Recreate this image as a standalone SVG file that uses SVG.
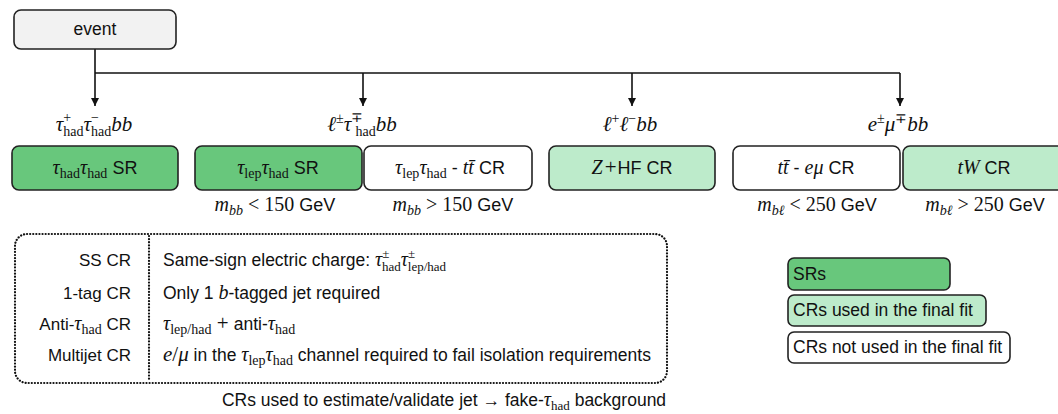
<svg xmlns="http://www.w3.org/2000/svg" width="1058" height="414" viewBox="0 0 1058 414">
<defs>
<marker id="arr" viewBox="0 0 10 10" refX="10" refY="5" markerWidth="8" markerHeight="9" markerUnits="userSpaceOnUse" orient="auto">
<path d="M0,0 L10,5 L0,10 z" fill="#111"/>
</marker>
</defs>
<style>
.box{stroke:#222;stroke-width:1.6}
.sr{fill:#68c77c}
.cr{fill:#bdebcb}
.nc{fill:#ffffff}
.ev{fill:#f2f2f2}
.sans{font-family:"Liberation Sans",Arial,sans-serif;fill:#111}
.m{font-family:"Liberation Serif","Times New Roman",serif;font-style:italic}
.r{font-family:"Liberation Serif","Times New Roman",serif;font-style:normal}
.conn{stroke:#111;stroke-width:1.6;fill:none}
.dot{stroke:#111;stroke-width:2.2;fill:none;stroke-dasharray:0.1 3;stroke-linecap:round}
</style>

<g id="connectors">
<line class="conn" x1="95" y1="49" x2="95" y2="106" marker-end="url(#arr)"/>
<line class="conn" x1="95" y1="73" x2="900" y2="73"/>
<line class="conn" x1="363" y1="73" x2="363" y2="106" marker-end="url(#arr)"/>
<line class="conn" x1="632" y1="73" x2="632" y2="106" marker-end="url(#arr)"/>
<line class="conn" x1="900" y1="73" x2="900" y2="106" marker-end="url(#arr)"/>
</g>

<g id="event">
<rect class="box ev" x="14" y="10" width="162" height="39" rx="7"/>
<text class="sans" x="95" y="35" font-size="17.5" text-anchor="middle">event</text>
</g>

<g id="label-hadhad">
<text class="sans" x="94" y="131" font-size="21" text-anchor="middle"><tspan class="m">τ</tspan><tspan class="r" font-size="14" dy="-9">+</tspan><tspan class="r" font-size="14" dx="-7.9" dy="14">had</tspan><tspan class="m" dy="-5">τ</tspan><tspan class="r" font-size="14" dy="-9">−</tspan><tspan class="r" font-size="14" dx="-7.9" dy="14">had</tspan><tspan class="m" dy="-5">bb</tspan></text>
</g>
<g id="label-lephad">
<text class="sans" x="362" y="131" font-size="21" text-anchor="middle"><tspan class="m">ℓ</tspan><tspan class="r" font-size="14" dy="-8">±</tspan><tspan class="m" dy="8">τ</tspan><tspan class="r" font-size="14" dy="-9">∓</tspan><tspan class="r" font-size="14" dx="-7.9" dy="14">had</tspan><tspan class="m" dy="-5">bb</tspan></text>
</g>
<g id="label-ll">
<text class="sans" x="630" y="131" font-size="21" text-anchor="middle"><tspan class="m">ℓ</tspan><tspan class="r" font-size="14" dy="-8">+</tspan><tspan class="m" dy="8">ℓ</tspan><tspan class="r" font-size="14" dy="-8">−</tspan><tspan class="m" dy="8">bb</tspan></text>
</g>
<g id="label-emu">
<text class="sans" x="898" y="131" font-size="21" text-anchor="middle"><tspan class="m">e</tspan><tspan class="r" font-size="14" dy="-8">±</tspan><tspan class="m" dy="8">μ</tspan><tspan class="r" font-size="14" dy="-8">∓</tspan><tspan class="m" dy="8">bb</tspan></text>
</g>

<g id="hadhad-sr">
<rect class="box sr" x="12" y="146" width="166" height="44" rx="7"/>
<text class="sans" x="95" y="174" font-size="18" text-anchor="middle"><tspan class="m" font-size="20">τ</tspan><tspan class="r" font-size="14" dy="4">had</tspan><tspan class="m" font-size="20" dy="-4">τ</tspan><tspan class="r" font-size="14" dy="4">had</tspan><tspan dy="-4"> SR</tspan></text>
</g>
<g id="lephad-sr">
<rect class="box sr" x="195" y="146" width="167" height="44" rx="7"/>
<text class="sans" x="278" y="174" font-size="18" text-anchor="middle"><tspan class="m" font-size="20">τ</tspan><tspan class="r" font-size="14" dy="4">lep</tspan><tspan class="m" font-size="20" dy="-4">τ</tspan><tspan class="r" font-size="14" dy="4">had</tspan><tspan dy="-4"> SR</tspan></text>
</g>
<g id="lephad-tt-cr">
<rect class="box nc" x="364" y="146" width="168" height="44" rx="7"/>
<text class="sans" x="450" y="174" font-size="18" text-anchor="middle"><tspan class="m" font-size="20">τ</tspan><tspan class="r" font-size="14" dy="4">lep</tspan><tspan class="m" font-size="20" dy="-4">τ</tspan><tspan class="r" font-size="14" dy="4">had</tspan><tspan dy="-4"> - </tspan><tspan class="m" font-size="20">tt̄</tspan><tspan> CR</tspan></text>
</g>
<g id="zhf-cr">
<rect class="box cr" x="549" y="146" width="166" height="44" rx="7"/>
<text class="sans" x="632" y="174" font-size="18" text-anchor="middle"><tspan class="m" font-size="20">Z</tspan><tspan class="r" font-size="21" dx="2">+</tspan><tspan dx="1">HF CR</tspan></text>
</g>
<g id="tt-emu-cr">
<rect class="box nc" x="733" y="146" width="167" height="44" rx="7"/>
<text class="sans" x="816" y="174" font-size="18" text-anchor="middle"><tspan class="m" font-size="20">tt̄</tspan><tspan> - </tspan><tspan class="m" font-size="20">eμ</tspan><tspan> CR</tspan></text>
</g>
<g id="tw-cr">
<rect class="box cr" x="903" y="146" width="170" height="44" rx="7"/>
<text class="sans" x="984" y="174" font-size="18" text-anchor="middle"><tspan class="m" font-size="20">tW</tspan><tspan> CR</tspan></text>
</g>

<g id="cuts">
<text class="sans" x="275" y="211" font-size="18" text-anchor="middle"><tspan class="m" font-size="20">m</tspan><tspan class="m" font-size="14" dy="4">bb</tspan><tspan class="r" font-size="20" dy="-4"> &lt; 150</tspan><tspan> GeV</tspan></text>
<text class="sans" x="453" y="211" font-size="18" text-anchor="middle"><tspan class="m" font-size="20">m</tspan><tspan class="m" font-size="14" dy="4">bb</tspan><tspan class="r" font-size="20" dy="-4"> &gt; 150</tspan><tspan> GeV</tspan></text>
<text class="sans" x="817" y="211" font-size="18" text-anchor="middle"><tspan class="m" font-size="20">m</tspan><tspan class="m" font-size="14" dy="4">bℓ</tspan><tspan class="r" font-size="20" dy="-4"> &lt; 250</tspan><tspan> GeV</tspan></text>
<text class="sans" x="985" y="211" font-size="18" text-anchor="middle"><tspan class="m" font-size="20">m</tspan><tspan class="m" font-size="14" dy="4">bℓ</tspan><tspan class="r" font-size="20" dy="-4"> &gt; 250</tspan><tspan> GeV</tspan></text>
</g>

<g id="fake-tau-crs">
<rect class="dot" x="15" y="234" width="652" height="149" rx="12"/>
<line class="dot" x1="149" y1="236" x2="149" y2="381"/>
<text class="sans" x="131" y="266" font-size="17" text-anchor="end">SS CR</text>
<text class="sans" x="131" y="299" font-size="17" text-anchor="end">1-tag CR</text>
<text class="sans" x="131" y="330" font-size="17" text-anchor="end">Anti-<tspan class="m" font-size="20">τ</tspan><tspan class="r" font-size="14" dy="4">had</tspan><tspan dy="-4"> CR</tspan></text>
<text class="sans" x="131" y="361" font-size="17" text-anchor="end">Multijet CR</text>
<text class="sans" x="163" y="266" font-size="17.5">Same-sign electric charge: <tspan class="m" font-size="20">τ</tspan><tspan class="r" font-size="13" dy="-8">±</tspan><tspan class="r" font-size="13" dx="-7.3" dy="13">had</tspan><tspan class="m" font-size="20" dy="-5">τ</tspan><tspan class="r" font-size="13" dy="-8">±</tspan><tspan class="r" font-size="13" dx="-7.3" dy="13">lep/had</tspan></text>
<text class="sans" x="163" y="299" font-size="17.5">Only 1 <tspan class="m" font-size="20">b</tspan>-tagged jet required</text>
<text class="sans" x="163" y="330" font-size="17.5"><tspan class="m" font-size="20">τ</tspan><tspan class="r" font-size="14" dy="4">lep/had</tspan><tspan class="r" font-size="21" dy="-4"> + </tspan><tspan>anti-</tspan><tspan class="m" font-size="20">τ</tspan><tspan class="r" font-size="14" dy="4">had</tspan></text>
<text class="sans" x="163" y="361" font-size="17.5"><tspan class="m" font-size="21">e</tspan><tspan class="r" font-size="21">/</tspan><tspan class="m" font-size="21">μ</tspan> in the <tspan class="m" font-size="20">τ</tspan><tspan class="r" font-size="14" dy="4">lep</tspan><tspan class="m" font-size="20" dy="-4">τ</tspan><tspan class="r" font-size="14" dy="4">had</tspan><tspan dy="-4"> channel required to fail isolation requirements</tspan></text>
<text class="sans" x="444" y="406" font-size="17.5" text-anchor="middle">CRs used to estimate/validate jet → fake-<tspan class="m" font-size="20">τ</tspan><tspan class="r" font-size="13" dy="4">had</tspan><tspan dy="-4"> background</tspan></text>
</g>

<g id="legend-sr">
<rect class="box sr" x="788" y="258" width="162" height="32" rx="6"/>
<text class="sans" x="793" y="280" font-size="17.5">SRs</text>
</g>
<g id="legend-cr-used">
<rect class="box cr" x="788" y="295" width="198" height="31" rx="6"/>
<text class="sans" x="793" y="316" font-size="17.5">CRs used in the final fit</text>
</g>
<g id="legend-cr-notused">
<rect class="box nc" x="788" y="332" width="222" height="31" rx="6"/>
<text class="sans" x="793" y="353" font-size="17.5">CRs not used in the final fit</text>
</g>
</svg>
